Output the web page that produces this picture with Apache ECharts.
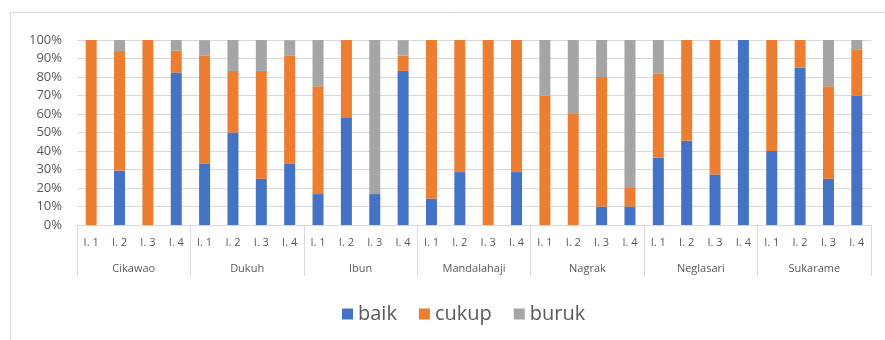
<!DOCTYPE html>
<html>
<head>
<meta charset="utf-8">
<script src="https://cdn.jsdelivr.net/npm/echarts@6/dist/echarts.min.js"></script>
<style>
html,body{margin:0;padding:0;background:#fff;}
#c{width:885px;height:340px;}
</style>
</head>
<body>
<div id="c"></div>
<script>
const groups = ["Cikawao", "Dukuh", "Ibun", "Mandalahaji", "Nagrak", "Neglasari", "Sukarame"];
const subLabels = ["I. 1", "I. 2", "I. 3", "I. 4"];
const yTicks = [0, 10, 20, 30, 40, 50, 60, 70, 80, 90, 100];

const baik = [
  0, 29.4, 0, 82.4,
  33.3, 50, 25, 33.3,
  16.7, 58.3, 16.7, 83.3,
  14.3, 28.6, 0, 28.6,
  0, 0, 10, 10,
  36.4, 45.5, 27.3, 100,
  40, 85, 25, 70
];
const cukup = [
  100, 64.7, 100, 11.8,
  58.3, 33.3, 58.3, 58.3,
  58.3, 41.7, 0, 8.3,
  85.7, 71.4, 100, 71.4,
  70, 60, 70, 10,
  45.5, 54.5, 72.7, 0,
  60, 15, 50, 25
];
const buruk = [
  0, 5.9, 0, 5.9,
  8.3, 16.7, 16.7, 8.3,
  25, 0, 83.3, 8.3,
  0, 0, 0, 0,
  30, 40, 20, 80,
  18.2, 0, 0, 0,
  0, 0, 25, 5
];

const categories = [];
groups.forEach(g => subLabels.forEach(s => categories.push(g + "|" + s)));

const chart = echarts.init(document.getElementById('c'));
const FONT = "'Open Sans', 'Liberation Sans', sans-serif";
const barW = 11;

chart.setOption({
  animation: false,
  textStyle: { fontFamily: FONT },
  graphic: [{
    type: 'rect',
    shape: { x: 10.5, y: 12.5, width: 900, height: 400 },
    style: { fill: 'none', stroke: '#d9d9d9', lineWidth: 1 },
    silent: true
  }],
  legend: {
    left: 337,
    top: 299,
    itemWidth: 11,
    itemHeight: 11,
    itemGap: 22,
    icon: 'rect',
    textStyle: { fontSize: 20, color: '#595959', fontFamily: FONT },
    data: ['baik', 'cukup', 'buruk']
  },
  grid: { left: 77, right: 14, top: 40, bottom: 115, containLabel: false },
  xAxis: [{
    type: 'category',
    data: categories,
    position: 'bottom',
    axisLine: { show: true, lineStyle: { color: '#d9d9d9', width: 1 } },
    axisTick: { show: false },
    axisLabel: {
      interval: 0,
      margin: 12,
      fontSize: 11,
      color: '#595959',
      formatter: v => v.split('|')[1]
    }
  }, {
    type: 'category',
    data: groups,
    position: 'bottom',
    axisLine: { show: false },
    axisTick: { show: true, length: 51, lineStyle: { color: '#d9d9d9', width: 1 } },
    axisLabel: { interval: 0, margin: 38, fontSize: 11, color: '#595959' },
    splitLine: { show: false }
  }],
  yAxis: {
    type: 'value',
    min: 0,
    max: 100,
    interval: 10,
    axisLine: { show: false },
    axisTick: { show: false },
    splitLine: { lineStyle: { color: '#d9d9d9', width: 1 } },
    axisLabel: {
      margin: 15,
      fontSize: 13,
      color: '#595959',
      formatter: v => (yTicks.indexOf(v) >= 0 ? v + '%' : '')
    }
  },
  series: [
    { name: 'baik', type: 'bar', stack: 'a', data: baik, barWidth: barW, itemStyle: { color: '#4472C4' } },
    { name: 'cukup', type: 'bar', stack: 'a', data: cukup, barWidth: barW, itemStyle: { color: '#ED7D31' } },
    { name: 'buruk', type: 'bar', stack: 'a', data: buruk, barWidth: barW, itemStyle: { color: '#A5A5A5' } }
  ]
});
</script>
</body>
</html>
